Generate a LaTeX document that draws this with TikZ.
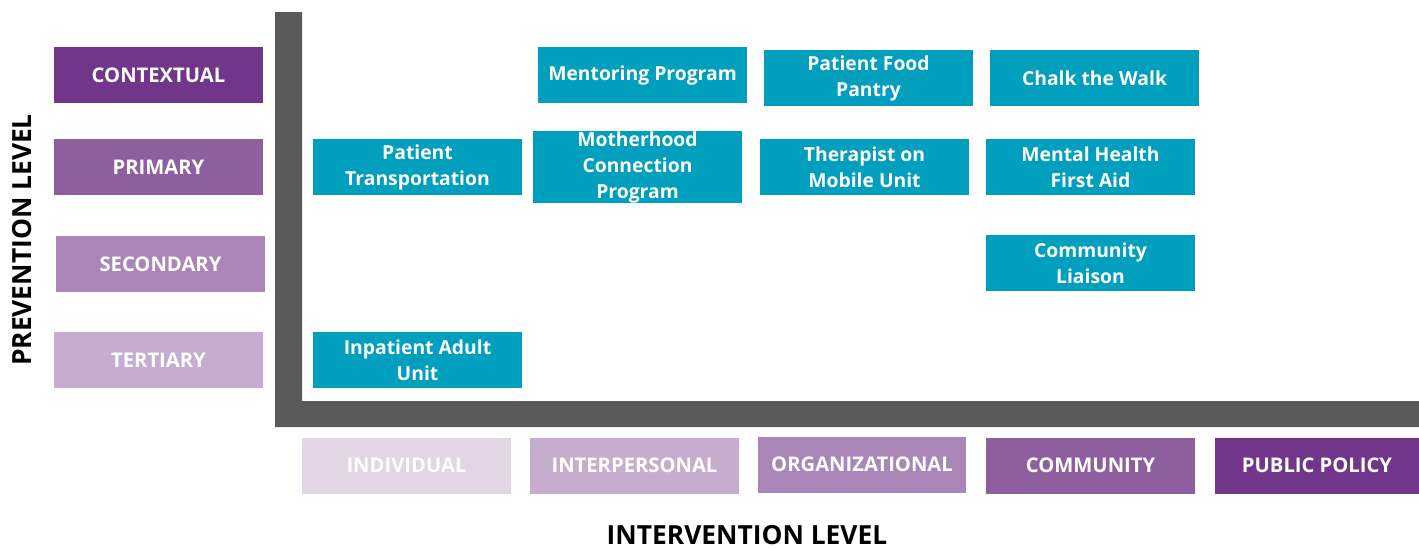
\documentclass[tikz,border=0pt]{standalone}
\usepackage{fontspec}
\setmainfont{Open Sans}
\usetikzlibrary{positioning}
\definecolor{ctxCol}{HTML}{71368A}
\definecolor{priCol}{HTML}{8E5F9F}
\definecolor{secCol}{HTML}{AA86B8}
\definecolor{terCol}{HTML}{C6ADD0}
\definecolor{indCol}{HTML}{E3D5E6}
\definecolor{progCol}{HTML}{009FBD}
\definecolor{axisCol}{HTML}{5A5A5A}
\tikzset{
  lvl/.style={fill=#1, text=white, inner sep=0pt, minimum width=4.18cm, minimum height=1.12cm,
              font=\bfseries\fontsize{11.5}{13}\selectfont},
  prog/.style={fill=progCol, text=white, inner sep=0pt, minimum width=4.18cm, minimum height=1.12cm,
               align=center, font=\bfseries\fontsize{11}{14.8}\selectfont},
  axislbl/.style={font=\bfseries\fontsize{15}{17}\selectfont, text=black},
}

\begin{document}
\begin{tikzpicture}[x=0.02cm, y=-0.02cm]
  \useasboundingbox (0,0) rectangle (1419,548);

  % the two axes as one L-shaped bar
  \fill[axisCol] (275,12) -- (302,12) -- (302,401) -- (1419,401) -- (1419,427) -- (275,427) -- cycle;

  % prevention levels (rows)
  \node[lvl=ctxCol] (ctx) at (158.5,75)  {CONTEXTUAL};
  \node[lvl=priCol] (pri) at (158.5,167) {PRIMARY};
  \node[lvl=secCol] (sec) at (160.5,264) {SECONDARY};
  \node[lvl=terCol] (ter) at (158.5,360) {TERTIARY};
  \node[axislbl, rotate=90] (prevlbl) at (22,240) {PREVENTION LEVEL};

  % intervention levels (columns)
  \node[lvl=indCol] (ind) at (406.5,465.5) {INDIVIDUAL};
  \node[lvl=terCol] (inter) at (634.5,465.5) {INTERPERSONAL};
  \node[lvl=secCol] (org) at (862,464.5) {ORGANIZATIONAL};
  \node[lvl=priCol] (comm) at (1090.5,465.5) {COMMUNITY};
  \node[lvl=ctxCol, minimum width=4.08cm] (pol) at (1317,465.5) {PUBLIC POLICY};
  \node[axislbl, anchor=base, inner sep=0pt, text depth=0pt] (intlbl) at (747,544) {INTERVENTION LEVEL};

  % programs
  \node[prog] (mentor)  at (642.5,75)  {Mentoring Program};
  \node[prog] (pantry)  at (868.5,78)  {Patient Food\\Pantry};
  \node[prog] (chalk)   at (1094.5,78) {Chalk the Walk};
  \node[prog] (transp)  at (417.5,167) {Patient\\Transportation};
  \node[prog, minimum height=1.44cm] (mother) at (637.5,167) {Motherhood\\Connection\\Program};
  \node[prog] (therap)  at (864.5,167) {Therapist on\\Mobile Unit};
  \node[prog] (mhfa)    at (1090.5,167) {Mental Health\\First Aid};
  \node[prog] (liaison) at (1090.5,263) {Community\\Liaison};
  \node[prog] (inpat)   at (417.5,360) {Inpatient Adult\\Unit};
\end{tikzpicture}
\end{document}
